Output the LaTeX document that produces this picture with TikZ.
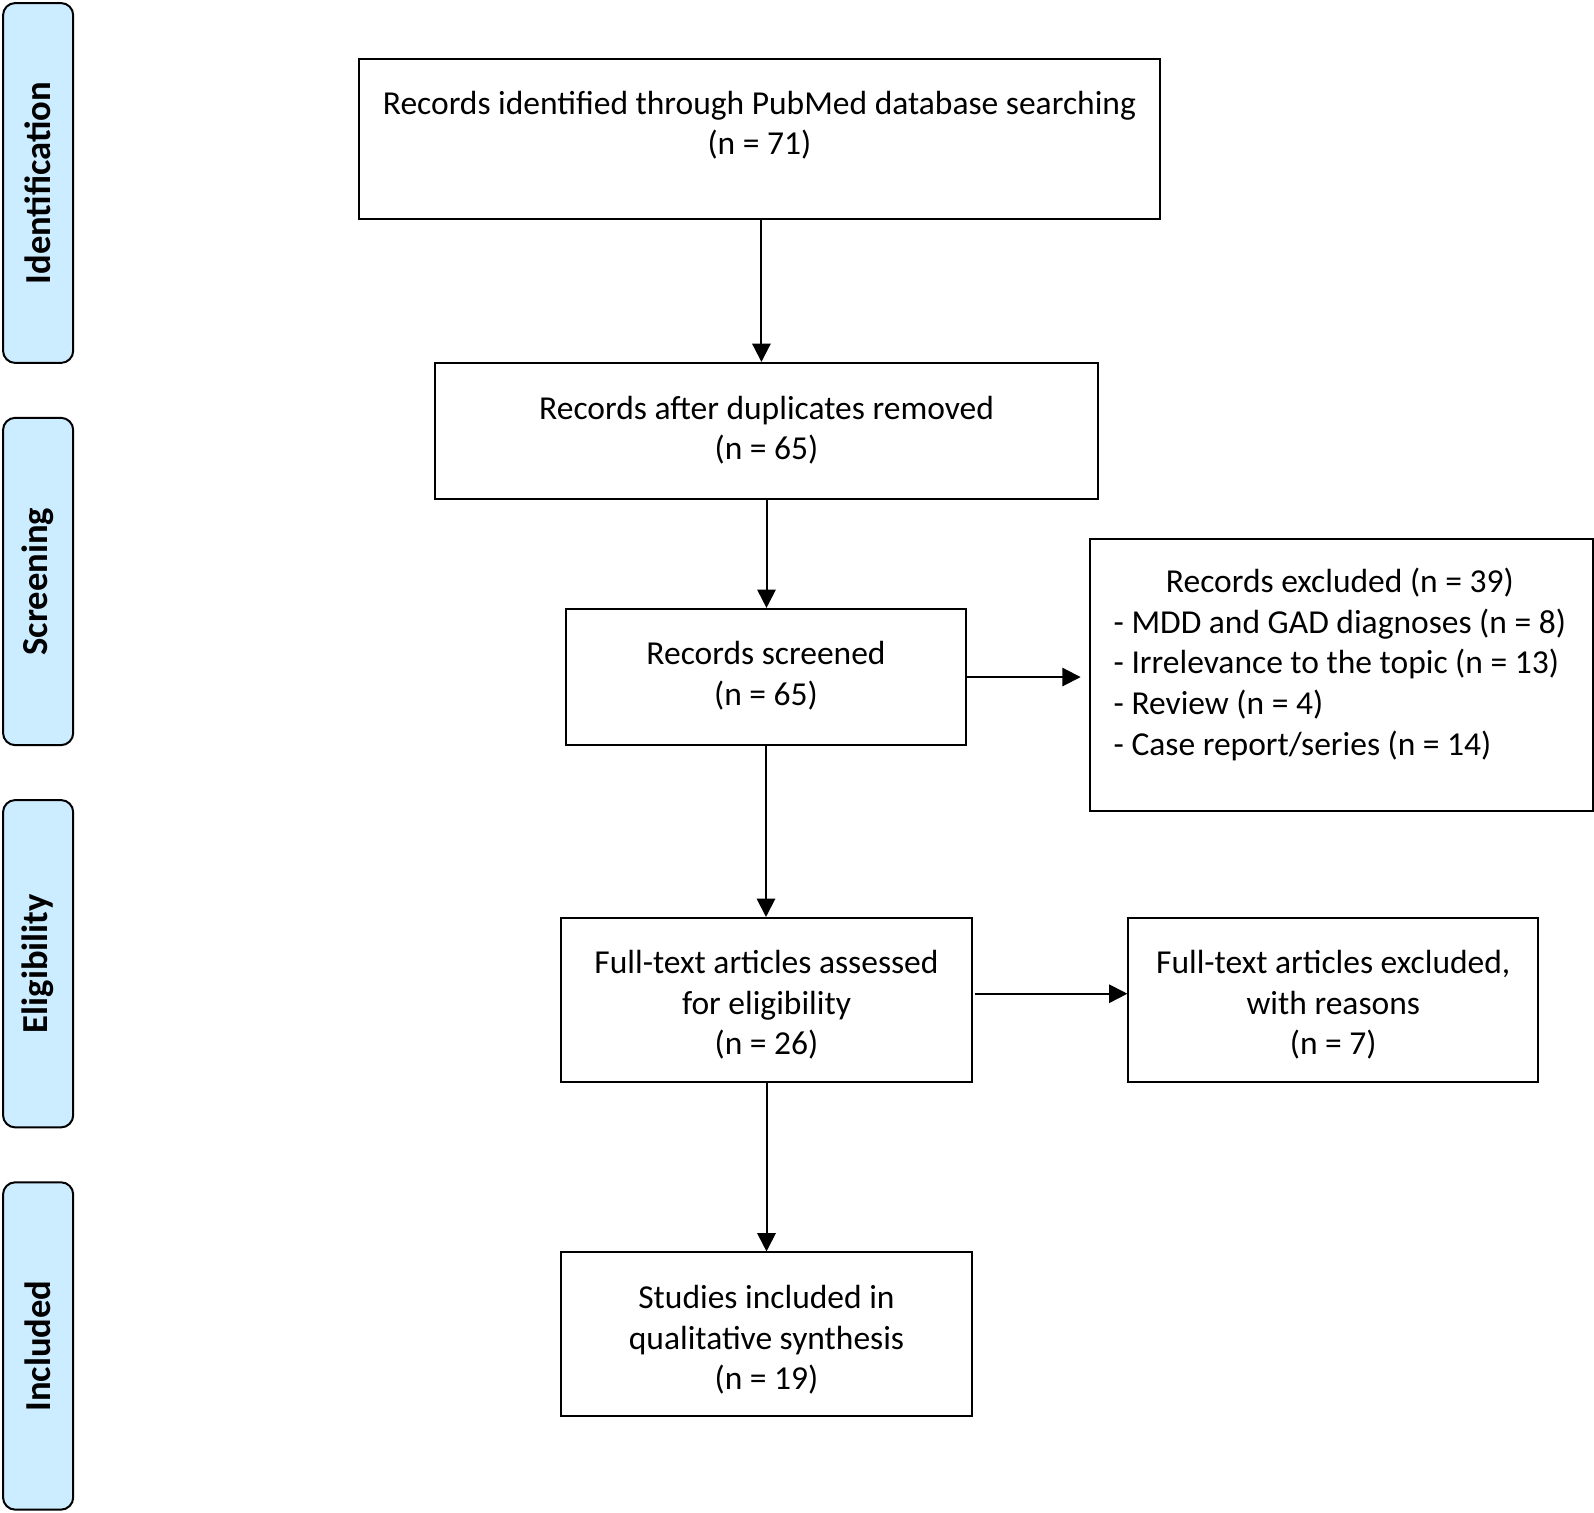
\documentclass[tikz,border=0pt]{standalone}
\usepackage{fontspec}
\setmainfont{Carlito}
\usetikzlibrary{arrows.meta}
\definecolor{sideblue}{RGB}{204,236,255}
\def\pu{0.508291pt}
\begin{document}
\begin{tikzpicture}[x=\pu,y=-\pu,
  boxnode/.style={draw=black,line width=1pt,inner sep=0pt,fill=white},
  sidenode/.style={draw=black,line width=1pt,fill=sideblue,rounded corners=12*\pu,inner sep=0pt,minimum width=69*\pu,minimum height=322*\pu},
  sidetxt/.style={rotate=90,font=\fontsize{18.3pt}{22pt}\selectfont\bfseries,inner sep=0pt},
  txt/.style={align=center,font=\fontsize{16.75pt}{20.3pt}\selectfont,inner sep=0pt},
  arr/.style={line width=1pt,-{Triangle[length=18*\pu,width=18*\pu]}}]
\useasboundingbox (0,0) rectangle (1568,1487.4);
% side labels
\node[sidenode,minimum height=354*\pu] (sideI) at (37.5,180) {};
\node[sidetxt] (sideIt) at (37.5,180) {Identification};
\node[sidenode] (sideS) at (37.5,572) {};
\node[sidetxt] (sideSt) at (37.5,572) {Screening};
\node[sidenode] (sideE) at (37.5,948) {};
\node[sidetxt] (sideEt) at (37.5,948) {Eligibility};
\node[sidenode] (sideN) at (37.5,1324) {};
\node[sidetxt] (sideNt) at (37.5,1324) {Included};
% boxes
\node[boxnode,minimum width=788*\pu,minimum height=157*\pu] (b1) at (747,136.5) {};
\node[txt] (b1t) at (747,123) {Records identified through PubMed database searching\\(n = 71)};
\node[boxnode,minimum width=652*\pu,minimum height=134*\pu] (b2) at (754,424) {};
\node[txt] (b2t) at (754,423) {Records after duplicates removed\\(n = 65)};
\node[boxnode,minimum width=393*\pu,minimum height=134*\pu] (b3) at (753.5,666) {};
\node[txt] (b3t) at (753.5,664.5) {Records screened\\(n = 65)};
\node[boxnode,minimum width=495*\pu,minimum height=268*\pu] (ex1) at (1319.5,664) {};
\node[txt,align=left] (ex1t) at (1318,655) {\begin{tabular}{@{}l@{}}\multicolumn{1}{@{}c@{}}{Records excluded (n = 39)}\\- MDD and GAD diagnoses (n = 8)\\- Irrelevance to the topic (n = 13)\\- Review (n = 4)\\- Case report/series (n = 14)\end{tabular}};
\node[boxnode,minimum width=404*\pu,minimum height=161*\pu] (b4) at (754,983.5) {};
\node[txt] (b4t) at (754,988.5) {Full-text articles assessed\\for eligibility\\(n = 26)};
\node[boxnode,minimum width=403*\pu,minimum height=161*\pu] (ex2) at (1311.5,983.5) {};
\node[txt] (ex2t) at (1311.5,988.5) {Full-text articles excluded,\\with reasons\\(n = 7)};
\node[boxnode,minimum width=404*\pu,minimum height=161*\pu] (b5) at (754,1312.5) {};
\node[txt] (b5t) at (754,1318) {Studies included in\\qualitative synthesis\\(n = 19)};
% arrows
\draw[arr] ([xshift=2*\pu]b1.south) -- ([xshift=2*\pu]b1.south |- b2.north);
\draw[arr] (b2.south) -- (b2.south |- b3.north);
\draw[arr,shorten >=8*\pu] (b3.east) -- (b3.east -| ex1.west);
\draw[arr] (b3.south) -- (b3.south |- b4.north);
\draw[arr] ([xshift=2*\pu,yshift=6*\pu]b4.east) -- ([yshift=6*\pu]ex2.west);
\draw[arr] (b4.south) -- (b5.north);
\end{tikzpicture}
\end{document}
